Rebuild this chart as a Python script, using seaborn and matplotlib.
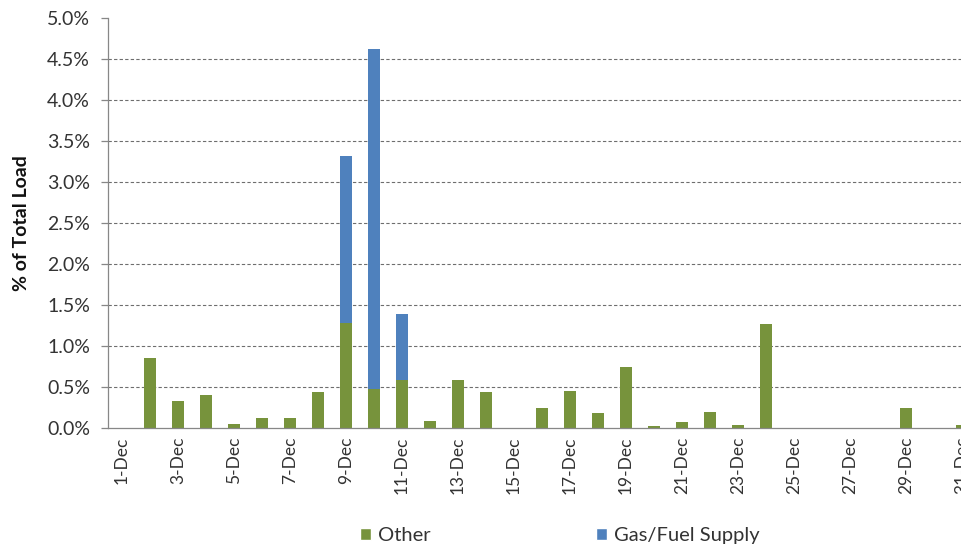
import numpy as np
import matplotlib
matplotlib.use("Agg")
import matplotlib.pyplot as plt
import seaborn as sns
from matplotlib.patches import Patch
from matplotlib.ticker import FuncFormatter, MultipleLocator

# daily share of total load (%), December
days = [f"{d}-Dec" for d in range(1, 32)]
other = [0.0, 0.85, 0.33, 0.40, 0.05, 0.12, 0.12, 0.44, 1.28, 0.47,
         0.59, 0.08, 0.59, 0.44, 0.0, 0.24, 0.45, 0.18, 0.74, 0.02,
         0.07, 0.195, 0.04, 1.265, 0.0, 0.0, 0.0, 0.0, 0.24, 0.0, 0.04]
gas_fuel = [0.0] * 31
gas_fuel[8] = 2.04   # 9-Dec
gas_fuel[9] = 4.15   # 10-Dec
gas_fuel[10] = 0.80  # 11-Dec

green = "#77933C"
blue = "#4F81BD"
axis_grey = "#878787"
text_col = "#333333"

sns.set_style("white")
plt.rcParams["font.family"] = ["Lato", "DejaVu Sans"]

fig = plt.figure(figsize=(9.62, 5.48), dpi=100)
ax = fig.add_axes([0.1123, 0.219, 0.8877, 0.748])

total = np.array(other) + np.array(gas_fuel)
sns.barplot(x=days, y=total, order=days, color=blue, width=0.4,
            errorbar=None, saturation=1, linewidth=0, ax=ax, zorder=3)
sns.barplot(x=days, y=other, order=days, color=green, width=0.4,
            errorbar=None, saturation=1, linewidth=0, ax=ax, zorder=4)

ax.set_ylim(0, 5.0)
ax.set_xlim(-0.5, 30.0)
ax.yaxis.set_major_locator(MultipleLocator(0.5))
ax.yaxis.set_major_formatter(FuncFormatter(lambda v, _: f"{v:.1f}%"))
for y in np.arange(0.5, 5.0, 0.5):
    ax.axhline(y, color="#6E6E6E", lw=0.8, ls=(0, (3, 2)), zorder=1)

ax.set_xticks(range(0, 31, 2))
ax.set_xticklabels(days[::2], rotation=90, fontsize=12.5, color=text_col)
ax.set_xticks(np.arange(1.5, 30, 2), minor=True)
ax.tick_params(axis="x", which="major", length=0, pad=6)
ax.tick_params(axis="x", which="minor", length=5, color=axis_grey, width=0.9)
ax.tick_params(axis="y", which="major", length=5, color=axis_grey, width=0.9,
               labelsize=14, labelcolor=text_col, left=True, pad=8)

ax.set_xlabel("")
ax.set_ylabel("% of Total Load", fontsize=14, fontweight="bold", color="#111111")
ax.yaxis.set_label_coords(-0.091, 0.5)

for side in ["top", "right"]:
    ax.spines[side].set_visible(False)
for side in ["left", "bottom"]:
    ax.spines[side].set_color(axis_grey)
    ax.spines[side].set_linewidth(0.9)
    ax.spines[side].set_zorder(5)

handles = [Patch(facecolor=green, label="Other"),
           Patch(facecolor=blue, label="Gas/Fuel Supply")]
fig.legend(handles=handles, loc="center", bbox_to_anchor=(0.582, 0.022),
           ncol=2, frameon=False, fontsize=14.5, handlelength=0.55,
           handleheight=0.55, handletextpad=0.35, columnspacing=8.2,
           labelcolor=text_col)

fig.savefig("out.png", dpi=100)
